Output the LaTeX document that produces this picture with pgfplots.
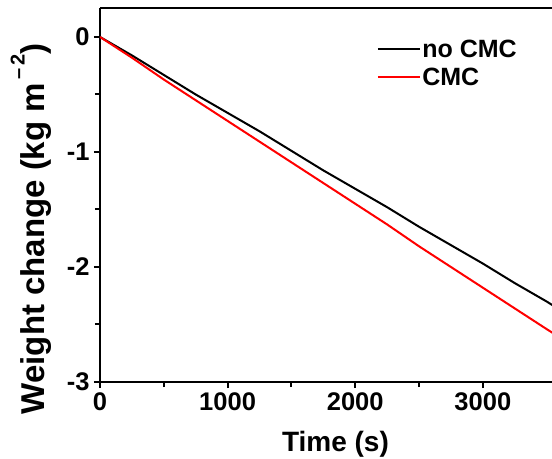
\documentclass[border=0pt]{standalone}
\usepackage{fontspec}
\setmainfont{Liberation Sans}
\usepackage{pgfplots}
\pgfplotsset{compat=1.18}
\begin{document}
\begin{tikzpicture}
\begin{axis}[
  scale only axis,
  width=452bp, height=374bp,
  xmin=0, xmax=3542,
  ymin=-3, ymax=0.252,
  axis x line=box,
  axis y line=left,
  y axis line style={-},
  x axis line style={-},
  axis line style={line width=2bp},
  xtick={0,1000,2000,3000},
  ytick={-3,-2,-1,0},
  minor x tick num=1,
  minor y tick num=1,
  xtick pos=bottom, ytick pos=left,
  tick align=outside,
  major tick length=6bp, minor tick length=5bp,
  every tick/.style={line width=2bp, black},
  tick label style={font=\fontsize{25.5bp}{28bp}\selectfont\bfseries},
  /pgf/number format/assume math mode=true,
  /pgf/number format/1000 sep={},
  xticklabel style={yshift=-1bp},
  yticklabel style={xshift=-1bp},
  xlabel={Time (s)},
  ylabel={Weight change (kg m\raisebox{0.62em}{\fontsize{20bp}{21bp}\selectfont\,–\,2})},
  xlabel style={font=\fontsize{28bp}{32bp}\selectfont\bfseries,
    at={(axis description cs:0.521,-0.1845)}, anchor=base},
  ylabel style={font=\fontsize{33bp}{37bp}\selectfont\bfseries,
    at={(axis description cs:-0.1217,0.41)}, anchor=base},
  legend style={at={(0.612,0.92)}, anchor=north west, draw=none, fill=none,
    font=\fontsize{25bp}{29bp}\selectfont\bfseries, row sep=6bp,
    inner sep=0pt, nodes={inner sep=1.5bp}},
  legend cell align=left,
  legend image code/.code={\draw[#1, line width=2bp] (0bp,0bp) -- (42bp,0bp);},
]
\addplot[black, line width=2bp] coordinates {
(0,0) (250,-0.16) (500,-0.33) (750,-0.50) (1000,-0.66) (1250,-0.82)
(1500,-0.99) (1750,-1.16) (2000,-1.32) (2250,-1.48) (2500,-1.65)
(2750,-1.81) (3000,-1.97) (3250,-2.14) (3500,-2.30) (3600,-2.37)};
\addlegendentry{no CMC}
\addplot[red, line width=2bp] coordinates {
(0,0) (250,-0.18) (500,-0.37) (750,-0.55) (1000,-0.73) (1250,-0.91)
(1500,-1.09) (1750,-1.27) (2000,-1.45) (2250,-1.63) (2500,-1.82)
(2750,-2.00) (3000,-2.18) (3250,-2.36) (3500,-2.54) (3600,-2.61)};
\addlegendentry{CMC}
\end{axis}
\pgfresetboundingbox
\path ([shift={(-100bp,-77bp)}]current axis.south west) rectangle ([shift={(0bp,8bp)}]current axis.north east);
\end{tikzpicture}
\end{document}
